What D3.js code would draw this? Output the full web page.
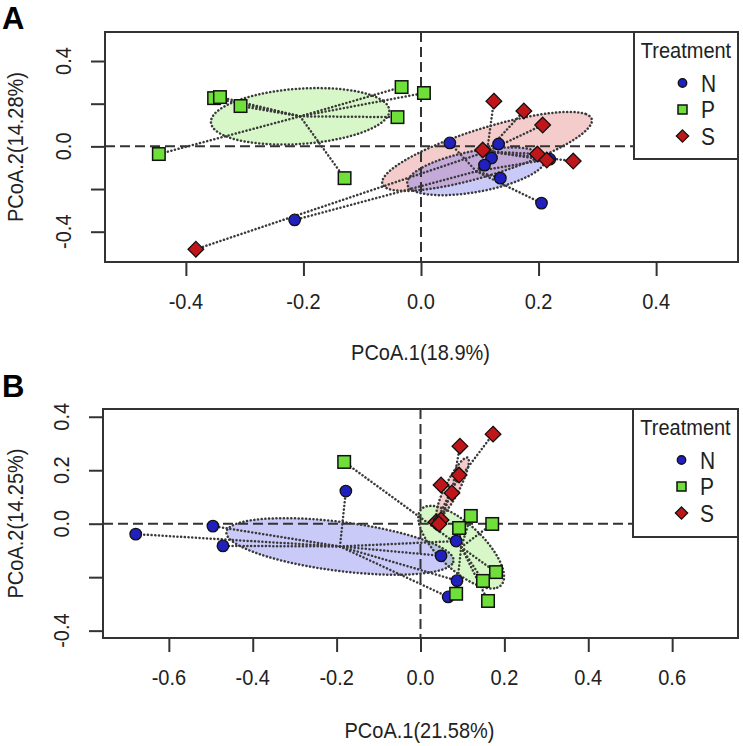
<!DOCTYPE html>
<html>
<head>
<meta charset="utf-8">
<script src="https://cdn.jsdelivr.net/npm/d3@7"></script>
<style>
  html, body { margin: 0; padding: 0; background: #fff; }
  svg { display: block; font-family: "Liberation Sans", Arial, sans-serif; }
</style>
</head>
<body>
<svg id="chart" width="743" height="746"></svg>
<script>
// ---------------- DATA ----------------
const treatments = ["N", "P", "S"];
const legendTitle = "Treatment";

// Panel A (PCoA.1 18.9%, PCoA.2 14.28%)
const panelA_N = [[0.049, 0.016], [0.132, 0.011], [0.120, -0.055], [0.108, -0.088],
                  [0.135, -0.149], [0.205, -0.266], [0.219, -0.060], [-0.215, -0.345]];
const panelA_P = [[-0.352, 0.226], [-0.342, 0.231], [-0.307, 0.189], [-0.446, -0.036],
                  [-0.033, 0.278], [0.005, 0.250], [-0.040, 0.137], [-0.130, -0.149]];
const panelA_S = [[0.124, 0.212], [0.175, 0.166], [0.207, 0.100], [0.105, -0.017],
                  [0.198, -0.036], [0.214, -0.064], [0.259, -0.069], [-0.383, -0.482]];

// Panel B (PCoA.1 21.58%, PCoA.2 14.25%)
const panelB_N = [[-0.679, -0.039], [-0.495, -0.009], [-0.471, -0.083], [-0.178, 0.122],
                  [0.085, -0.065], [0.049, -0.120], [0.087, -0.213], [0.066, -0.274]];
const panelB_P = [[-0.182, 0.231], [0.120, 0.029], [0.171, -0.001], [0.092, -0.016],
                  [0.180, -0.181], [0.149, -0.214], [0.085, -0.262], [0.161, -0.289]];
const panelB_S = [[0.173, 0.335], [0.094, 0.290], [0.092, 0.182], [0.049, 0.145],
                  [0.075, 0.115], [0.037, 0.006], [0.049, 0.014], [0.044, -0.001]];

const panelA_xTicks = [-0.4, -0.2, 0.0, 0.2, 0.4];
const panelA_xLabels = ["-0.4", "-0.2", "0.0", "0.2", "0.4"];
const panelA_yTicks = [-0.4, -0.2, 0.0, 0.2, 0.4];
const panelA_yLabels = ["-0.4", "", "0.0", "", "0.4"];
const panelB_xTicks = [-0.6, -0.4, -0.2, 0.0, 0.2, 0.4, 0.6];
const panelB_xLabels = ["-0.6", "-0.4", "-0.2", "0.0", "0.2", "0.4", "0.6"];
const panelB_yTicks = [-0.4, -0.2, 0.0, 0.2, 0.4];
const panelB_yLabels = ["-0.4", "", "0.0", "0.2", "0.4"];

// ---------------- STYLE ----------------
const fillCol = { N: "#2020bf", P: "#6fe03a", S: "#c0161a" };
const ellCol = { N: "rgba(115,115,240,0.38)", P: "rgba(150,235,110,0.38)", S: "rgba(225,120,120,0.38)" };
const ink = "#333";
const dotStyle = { stroke: "#3a3a3a", width: 2.5, dash: "0.1,3.6" };
const TS = 1.12; // vertical stretch of text, as in the reference

const svg = d3.select("#chart");

function label(g, x, y, str, size, anchor, rotate) {
  g.append("text")
    .attr("transform", `translate(${x},${y})${rotate ? " rotate(-90)" : ""} scale(1,${TS})`)
    .attr("text-anchor", anchor).attr("font-size", size).attr("fill", "#222").text(str);
}

function seEllipse(pts) {
  const n = pts.length;
  const mx = d3.mean(pts, d => d[0]), my = d3.mean(pts, d => d[1]);
  let sxx = 0, syy = 0, sxy = 0;
  pts.forEach(([x, y]) => { sxx += (x - mx) ** 2; syy += (y - my) ** 2; sxy += (x - mx) * (y - my); });
  sxx /= (n - 1) * n; syy /= (n - 1) * n; sxy /= (n - 1) * n;
  const t = Math.sqrt(5.991465);
  const h = (sxx + syy) / 2, dd = Math.sqrt(((sxx - syy) / 2) ** 2 + sxy ** 2);
  const l1 = h + dd, l2 = Math.max(h - dd, 0);
  const th = 0.5 * Math.atan2(2 * sxy, sxx - syy);
  const out = [];
  for (let k = 0; k <= 120; k++) {
    const p = 2 * Math.PI * k / 120;
    const ex = t * Math.sqrt(l1) * Math.cos(p), ey = t * Math.sqrt(l2) * Math.sin(p);
    out.push([mx + ex * Math.cos(th) - ey * Math.sin(th), my + ex * Math.sin(th) + ey * Math.cos(th)]);
  }
  return { pts: out, c: [mx, my] };
}

function symbol(g, type, cx, cy, s) {
  if (type === "N") {
    g.append("circle").attr("cx", cx).attr("cy", cy).attr("r", s * 0.5)
      .attr("fill", fillCol.N).attr("stroke", "#111").attr("stroke-width", 1.3);
  } else if (type === "P") {
    g.append("rect").attr("x", cx - s * 0.5).attr("y", cy - s * 0.5).attr("width", s).attr("height", s)
      .attr("fill", fillCol.P).attr("stroke", "#111").attr("stroke-width", 1.5);
  } else {
    const r = s * 0.68;
    g.append("path").attr("d", `M${cx},${cy - r}L${cx + r},${cy}L${cx},${cy + r}L${cx - r},${cy}Z`)
      .attr("fill", fillCol.S).attr("stroke", "#111").attr("stroke-width", 1.3);
  }
}

function panel(cfg) {
  const x = d3.scaleLinear().domain(cfg.xDom).range([cfg.left, cfg.right]);
  const y = d3.scaleLinear().domain(cfg.yDom).range([cfg.bottom, cfg.top]);
  const g = svg.append("g");
  const groups = { N: cfg.N, P: cfg.P, S: cfg.S };
  const ells = {};
  treatments.forEach(k => ells[k] = seEllipse(groups[k]));
  const line = d3.line().x(d => x(d[0])).y(d => y(d[1]));

  // ellipse fills
  ["P", "S", "N"].forEach(k => {
    g.append("path").attr("d", line(ells[k].pts) + "Z").attr("fill", ellCol[k]).attr("stroke", "none");
  });
  // zero reference lines
  g.append("line").attr("x1", cfg.left).attr("x2", cfg.right).attr("y1", y(0)).attr("y2", y(0))
    .attr("stroke", ink).attr("stroke-width", 2).attr("stroke-dasharray", "10,5");
  g.append("line").attr("x1", x(0)).attr("x2", x(0)).attr("y1", cfg.top).attr("y2", cfg.bottom)
    .attr("stroke", ink).attr("stroke-width", 2).attr("stroke-dasharray", "10,5");
  // ellipse borders
  ["P", "S", "N"].forEach(k => {
    g.append("path").attr("d", line(ells[k].pts) + "Z").attr("fill", "none")
      .attr("stroke", dotStyle.stroke).attr("stroke-width", dotStyle.width).attr("stroke-linecap", "round")
      .attr("stroke-dasharray", dotStyle.dash);
  });
  // spiders
  treatments.forEach(k => {
    const c = ells[k].c;
    groups[k].forEach(p => {
      g.append("path").attr("d", line([c, p])).attr("fill", "none")
        .attr("stroke", dotStyle.stroke).attr("stroke-width", dotStyle.width).attr("stroke-linecap", "round")
        .attr("stroke-dasharray", dotStyle.dash);
    });
  });
  // points
  ["N", "P", "S"].forEach(k => {
    groups[k].forEach(p => symbol(g, k, x(p[0]), y(p[1]), k === "P" ? 12.5 : 11.5));
  });
  // box
  g.append("rect").attr("x", cfg.left).attr("y", cfg.top).attr("width", cfg.right - cfg.left)
    .attr("height", cfg.bottom - cfg.top).attr("fill", "none").attr("stroke", ink).attr("stroke-width", 2);

  // axes (ticks)
  const xa = g.append("g").attr("transform", `translate(0,${cfg.bottom})`)
    .call(d3.axisBottom(x).tickValues(cfg.xTicks).tickSize(14).tickFormat(""));
  const ya = g.append("g").attr("transform", `translate(${cfg.left},0)`)
    .call(d3.axisLeft(y).tickValues(cfg.yTicks).tickSize(14).tickFormat(""));
  [xa, ya].forEach(a => {
    a.select(".domain").remove();
    a.selectAll("line").attr("stroke", ink).attr("stroke-width", 2);
  });
  cfg.xTicks.forEach((v, i) => label(g, x(v), cfg.bottom + 47, cfg.xLabels[i], 20, "middle", false));
  cfg.yTicks.forEach((v, i) => {
    if (cfg.yLabels[i]) label(g, cfg.left - 34, y(v), cfg.yLabels[i], 20, "middle", true);
  });
  // axis titles
  label(g, (cfg.left + cfg.right) / 2 - 1, cfg.xTitleY, cfg.xTitle, 20, "middle", false);
  label(g, 23, (cfg.top + cfg.bottom) / 2, cfg.yTitle, 20, "middle", true);

  // legend
  const lx = cfg.legLeft, lw = cfg.right - cfg.legLeft, lh = cfg.legBottom - cfg.top;
  g.append("rect").attr("x", lx).attr("y", cfg.top).attr("width", lw).attr("height", lh)
    .attr("fill", "#fff").attr("stroke", ink).attr("stroke-width", 2);
  label(g, lx + lw / 2, cfg.top + 26, legendTitle, 20, "middle", false);
  treatments.forEach((k, i) => {
    const cy = cfg.top + 51 + i * 26.5;
    symbol(g, k, lx + 48.5, cy, k === "N" ? 8.5 : 9);
    label(g, lx + 67, cy + 8.5, k, 21, "start", false);
  });

  // panel letter
  svg.append("text").attr("x", 2).attr("y", cfg.letterY).attr("font-size", 31).attr("font-weight", "bold")
    .attr("fill", "#000").text(cfg.letter);
}

panel({
  letter: "A", letterY: 29,
  N: panelA_N, P: panelA_P, S: panelA_S,
  xDom: [-0.5376, 0.5393], yDom: [-0.542, 0.536],
  left: 105, right: 738, top: 32, bottom: 262,
  xTicks: panelA_xTicks, xLabels: panelA_xLabels, yTicks: panelA_yTicks, yLabels: panelA_yLabels,
  xTitle: "PCoA.1(18.9%)", yTitle: "PCoA.2(14.28%)", xTitleY: 360,
  legLeft: 634, legBottom: 159
});

panel({
  letter: "B", letterY: 397,
  N: panelB_N, P: panelB_P, S: panelB_S,
  xDom: [-0.757, 0.757], yDom: [-0.4275, 0.429],
  left: 103, right: 738, top: 409, bottom: 638,
  xTicks: panelB_xTicks, xLabels: panelB_xLabels, yTicks: panelB_yTicks, yLabels: panelB_yLabels,
  xTitle: "PCoA.1(21.58%)", yTitle: "PCoA.2(14.25%)", xTitleY: 738,
  legLeft: 633, legBottom: 537
});
</script>
</body>
</html>
